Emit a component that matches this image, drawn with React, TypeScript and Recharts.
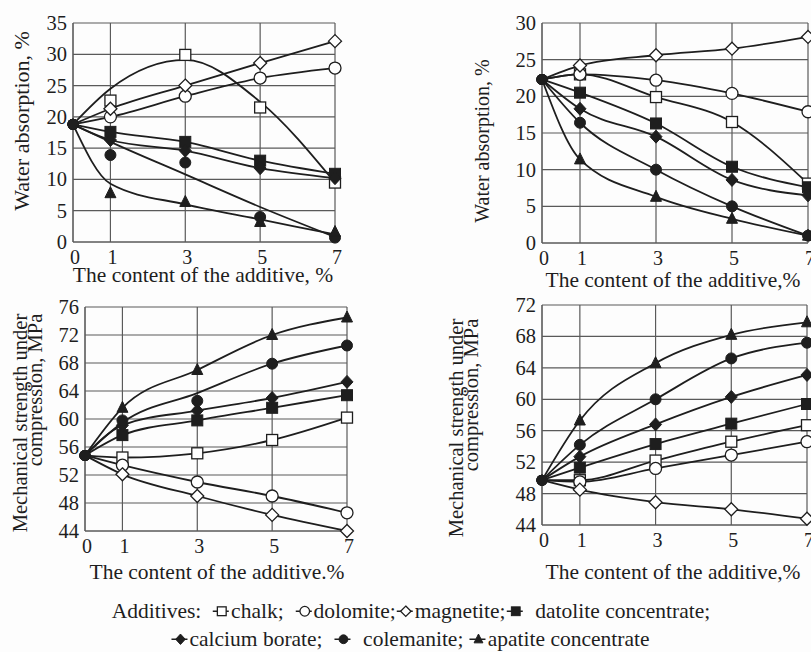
import React from "react";
import { CartesianGrid, Line, LineChart, XAxis, YAxis } from "recharts";

const FONT = "Liberation Serif";
const INK = "#1e1e1e";
const GRID = "#5a5a5a";

// additive content, %
const X = [0, 1, 3, 5, 7];

// water absorption, % (top left) - measured points
const waAChalk = [18.8, 22.6, 29.9, 21.5, 9.5];
const waADolomite = [18.8, 20, 23.3, 26.2, 27.8];
const waAMagnetite = [18.8, 21.3, 25, 28.6, 32.1];
const waADatolite = [18.8, 17.6, 16, 13, 10.9];
const waABorate = [18.8, 16.3, 14.6, 11.8, 10.2];
const waAColemanite = [18.8, 13.9, 12.7, 4, 0.7];
const waAApatite = [18.8, 7.8, 6.4, 3.2, 1.6];
// fitted curves where they leave the points
const waAChalkFit = [18.8, 24.5, 29.1, 22.4, 9.5];
const waAColemaniteFit = [18.8, 16, 10.8, 5.6, 0.8];
const waAApatiteFit = [18.8, 9.3, 6, 3.6, 1.2];

// water absorption, % (top right)
const waBChalk = [22.3, 23, 19.9, 16.5, 8.1];
const waBDolomite = [22.3, 23, 22.2, 20.4, 17.9];
const waBMagnetite = [22.3, 24.2, 25.6, 26.5, 28.1];
const waBDatolite = [22.3, 20.5, 16.3, 10.4, 7.6];
const waBBorate = [22.3, 18.3, 14.5, 8.6, 6.5];
const waBColemanite = [22.3, 16.4, 10, 5, 1];
const waBApatite = [22.3, 11.4, 6.3, 3.3, 1];

// compressive strength, MPa (bottom left)
const msAChalk = [54.8, 54.5, 55.1, 57, 60.2];
const msADolomite = [54.8, 53.4, 51, 49, 46.6];
const msAMagnetite = [54.8, 52.1, 49, 46.3, 44];
const msADatolite = [54.8, 57.7, 59.8, 61.6, 63.4];
const msABorate = [54.8, 59.1, 61.2, 63, 65.3];
const msAColemanite = [54.8, 59.8, 62.6, 67.9, 70.5];
const msAApatite = [54.8, 61.6, 67, 72, 74.5];
const msAColemaniteFit = [54.8, 59.5, 63.7, 67.9, 70.5];

// compressive strength, MPa (bottom right)
const msBChalk = [49.7, 49.7, 52.2, 54.6, 56.7];
const msBDolomite = [49.7, 49.5, 51.2, 52.9, 54.6];
const msBMagnetite = [49.7, 48.5, 46.9, 46, 44.8];
const msBDatolite = [49.7, 51.3, 54.3, 56.9, 59.4];
const msBBorate = [49.7, 52.7, 56.8, 60.3, 63.1];
const msBColemanite = [49.7, 54.2, 60, 65.2, 67.2];
const msBApatite = [49.7, 57.3, 64.6, 68.2, 69.8];

const WA_A_TICKS = [0, 5, 10, 15, 20, 25, 30, 35];
const WA_B_TICKS = [0, 5, 10, 15, 20, 25, 30];
const MS_A_TICKS = [44, 48, 52, 56, 60, 64, 68, 72, 76];
const MS_B_TICKS = [44, 48, 52, 56, 60, 64, 68, 72];

type Shape = "sq" | "ci" | "di" | "fsq" | "fdi" | "fci" | "tri";

const KEYS = ["chalk", "dolomite", "magnetite", "datolite", "borate", "colemanite", "apatite"];
const SHAPES: Shape[] = ["sq", "ci", "di", "fsq", "fdi", "fci", "tri"];

function rows(points: number[][], fits: (number[] | null)[]) {
  return X.map((x, i) => {
    const r: Record<string, number> = { x };
    KEYS.forEach((k, j) => {
      r[k] = points[j][i];
      r[k + "Fit"] = (fits[j] ?? points[j])[i];
    });
    return r;
  });
}

function Marker({ shape, cx, cy, s = 1 }: { shape: Shape; cx: number; cy: number; s?: number }) {
  const open = { fill: "#fff", stroke: INK, strokeWidth: 1.3 };
  const full = { fill: INK, stroke: INK, strokeWidth: 1 };
  const h = 5.5 * s;
  const d = 6.5 * s;
  switch (shape) {
    case "sq":
      return <rect x={cx - h} y={cy - h} width={2 * h} height={2 * h} {...open} />;
    case "ci":
      return <circle cx={cx} cy={cy} r={6 * s} {...open} />;
    case "di":
      return <path d={`M${cx},${cy - d}L${cx + d},${cy}L${cx},${cy + d}L${cx - d},${cy}Z`} {...open} />;
    case "fsq":
      return <rect x={cx - h} y={cy - h} width={2 * h} height={2 * h} {...full} />;
    case "fdi":
      return <path d={`M${cx},${cy - d}L${cx + 6 * s},${cy}L${cx},${cy + d}L${cx - 6 * s},${cy}Z`} {...full} />;
    case "fci":
      return <circle cx={cx} cy={cy} r={h} {...full} />;
    default:
      return <path d={`M${cx},${cy - d}L${cx + h},${cy + 4.5 * s}L${cx - h},${cy + 4.5 * s}Z`} {...full} />;
  }
}

const dotFor = (shape: Shape) => (p: any) =>
  p.index === 0 ? (
    <circle key={p.index} cx={p.cx} cy={p.cy} r={5.5} fill={INK} />
  ) : (
    <Marker key={p.index} shape={shape} cx={p.cx} cy={p.cy} />
  );

const XTick = (p: any) => (
  <text x={p.x + 2} y={p.y + 14} textAnchor="middle" fontFamily={FONT} fontSize={20} fill={INK}>
    {p.payload.value}
  </text>
);

const YTick = (p: any) => (
  <text x={p.x + 2} y={p.y + 7} textAnchor="end" fontFamily={FONT} fontSize={20.5} fill={INK}>
    {p.payload.value}
  </text>
);

function Panel({
  points,
  fits = [],
  ticks,
  x0,
  x1,
  y0,
  y1,
}: {
  points: number[][];
  fits?: (number[] | null)[];
  ticks: number[];
  x0: number;
  x1: number;
  y0: number;
  y1: number;
}) {
  const yw = 50;
  const m = { top: 12, right: 14, left: 0, bottom: 0 };
  const xh = 30;
  const data = rows(points, fits);
  return (
    <div style={{ position: "absolute", left: x0 - yw, top: y0 - m.top }}>
      <LineChart width={x1 - x0 + yw + m.right} height={y1 - y0 + m.top + xh} data={data} margin={m}>
        <CartesianGrid stroke={GRID} strokeWidth={1.2} />
        <XAxis
          dataKey="x"
          type="number"
          domain={[0, 7]}
          ticks={X}
          height={xh}
          tick={XTick}
          tickLine={false}
          axisLine={{ stroke: GRID }}
          interval={0}
        />
        <YAxis
          type="number"
          domain={[ticks[0], ticks[ticks.length - 1]]}
          ticks={ticks}
          width={yw}
          tick={YTick}
          tickLine={false}
          axisLine={{ stroke: GRID }}
          interval={0}
        />
        {KEYS.map((k) => (
          <Line
            key={k + "Fit"}
            dataKey={k + "Fit"}
            type="monotone"
            stroke={INK}
            strokeWidth={1.8}
            dot={false}
            isAnimationActive={false}
          />
        ))}
        {KEYS.map((k, j) => (
          <Line
            key={k}
            dataKey={k}
            stroke="none"
            dot={dotFor(SHAPES[j])}
            isAnimationActive={false}
          />
        ))}
      </LineChart>
    </div>
  );
}

const text = (extra: React.CSSProperties): React.CSSProperties => ({
  position: "absolute",
  fontFamily: FONT,
  fontSize: 21.5,
  color: INK,
  whiteSpace: "nowrap",
  lineHeight: 1,
  ...extra,
});

function YTitle({ cx, cy, lines, size = 21 }: { cx: number; cy: number; lines: string[]; size?: number }) {
  return (
    <div
      style={text({
        left: cx,
        top: cy,
        fontSize: size,
        lineHeight: lines.length > 1 ? "15px" : 1,
        textAlign: "right",
        transform: "translate(-50%, -50%) rotate(-90deg)",
      })}
    >
      {lines.map((l) => (
        <div key={l}>{l}</div>
      ))}
    </div>
  );
}

function XTitle({ cx, cy, label }: { cx: number; cy: number; label: string }) {
  return <div style={text({ left: cx, top: cy, transform: "translate(-50%, -50%)" })}>{label}</div>;
}

function LegendIcon({ shape }: { shape: Shape }) {
  return (
    <svg width={18} height={14} style={{ verticalAlign: "0px", marginRight: 1 }}>
      <line x1={1} y1={7} x2={17} y2={7} stroke={INK} strokeWidth={1.3} />
      <Marker shape={shape} cx={10} cy={7} s={0.8} />
    </svg>
  );
}

export default function App() {
  return (
    <div
      style={{
        position: "absolute",
        left: 0,
        top: 0,
        width: 811,
        height: 652,
        overflow: "hidden",
        background: "#fdfdfd",
        fontFamily: FONT,
      }}
    >
      <Panel
        points={[waAChalk, waADolomite, waAMagnetite, waADatolite, waABorate, waAColemanite, waAApatite]}
        fits={[waAChalkFit, null, null, null, null, waAColemaniteFit, waAApatiteFit]}
        ticks={WA_A_TICKS}
        x0={73}
        x1={335}
        y0={23}
        y1={242}
      />
      <Panel
        points={[waBChalk, waBDolomite, waBMagnetite, waBDatolite, waBBorate, waBColemanite, waBApatite]}
        ticks={WA_B_TICKS}
        x0={542}
        x1={808}
        y0={23}
        y1={243}
      />
      <Panel
        points={[msAChalk, msADolomite, msAMagnetite, msADatolite, msABorate, msAColemanite, msAApatite]}
        fits={[null, null, null, null, null, msAColemaniteFit, null]}
        ticks={MS_A_TICKS}
        x0={85}
        x1={347}
        y0={307}
        y1={531}
      />
      <Panel
        points={[msBChalk, msBDolomite, msBMagnetite, msBDatolite, msBBorate, msBColemanite, msBApatite]}
        ticks={MS_B_TICKS}
        x0={542}
        x1={807}
        y0={305}
        y1={525}
      />

      <YTitle cx={22} cy={121} lines={["Water absorption, %"]} size={22} />
      <YTitle cx={482} cy={141} lines={["Water absorption, %"]} size={20} />
      <YTitle cx={28} cy={423} lines={["Mechanical strength under", "compression, MPa"]} size={20.5} />
      <YTitle cx={464} cy={428} lines={["Mechanical strength under", "compression, MPa"]} size={20.5} />

      <XTitle cx={203} cy={276} label="The content of the additive, %" />
      <XTitle cx={673} cy={281} label="The content of the additive,%" />
      <XTitle cx={217} cy={573} label="The content of the additive.%" />
      <XTitle cx={673} cy={573} label="The content of the additive,%" />

      <div style={text({ left: 411, top: 612, transform: "translate(-50%, -50%)" })}>
        Additives:&nbsp;&nbsp;
        <LegendIcon shape="sq" />chalk;&nbsp;&nbsp;
        <LegendIcon shape="ci" />dolomite;
        <LegendIcon shape="di" />magnetite;
        <LegendIcon shape="fsq" />&nbsp;&nbsp;datolite concentrate;
      </div>
      <div style={text({ left: 410, top: 640, transform: "translate(-50%, -50%)" })}>
        <LegendIcon shape="fdi" />calcium borate;&nbsp;&nbsp;
        <LegendIcon shape="fci" />&nbsp;&nbsp;colemanite;&nbsp;
        <LegendIcon shape="tri" />apatite concentrate
      </div>
    </div>
  );
}
